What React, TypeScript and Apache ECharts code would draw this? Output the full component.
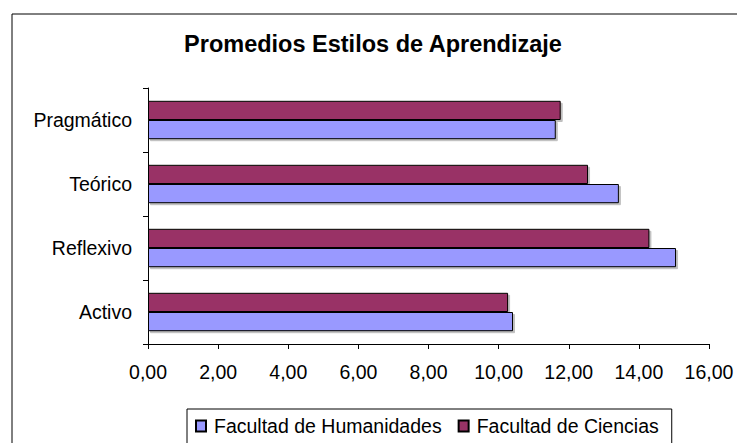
import React, { useEffect, useRef } from "react";
import * as echarts from "echarts";

const categories = ["Activo", "Reflexivo", "Teórico", "Pragmático"];
const humanidades = [10.41, 15.06, 13.43, 11.63];
const ciencias = [10.27, 14.3, 12.55, 11.77];
const seriesNames = ["Facultad de Humanidades", "Facultad de Ciencias"];
const titleText = "Promedios Estilos de Aprendizaje";

const FONT = "'Liberation Sans', Arial, sans-serif";
const FS = 19.5;

export default function App() {
  const ref = useRef<HTMLDivElement>(null);
  useEffect(() => {
    if (!ref.current) return;
    const chart = echarts.init(ref.current, null, { renderer: "svg" });
    const barStyle = (color: string) => ({
      color,
      borderColor: "#000",
      borderWidth: 1,
      shadowColor: "rgba(0,0,0,0.25)",
      shadowOffsetX: 2,
      shadowOffsetY: 2,
      shadowBlur: 0,
    });
    chart.setOption({
      animation: false,
      backgroundColor: "#fff",
      textStyle: { fontFamily: FONT },
      graphic: [
        {
          type: "rect",
          shape: { x: 12, y: 14, width: 800, height: 500 },
          style: { fill: "none", stroke: "#000", lineWidth: 1 },
          z: -1,
        },
        {
          type: "text",
          x: 373,
          y: 43.5,
          style: {
            text: titleText,
            font: `bold 23.5px ${FONT}`,
            fill: "#000",
            textAlign: "center",
            textVerticalAlign: "middle",
          },
        },
      ],
      grid: { left: 148, top: 88, width: 561, height: 256, containLabel: false },
      legend: {
        data: seriesNames,
        left: 187,
        top: 409,
        orient: "horizontal",
        icon: "rect",
        itemWidth: 10,
        itemHeight: 11,
        itemGap: 16,
        padding: [7, 13, 30, 8],
        borderColor: "#000",
        borderWidth: 1,
        borderRadius: 0,
        textStyle: {
          fontFamily: FONT,
          fontSize: FS,
          color: "#000",
          padding: [0, 0, 0, 3],
        },
      },
      xAxis: {
        type: "value",
        min: 0,
        max: 16,
        interval: 2,
        axisLine: { show: true, lineStyle: { color: "#000", width: 1 } },
        axisTick: { show: true, length: 5, lineStyle: { color: "#000" } },
        splitLine: { show: false },
        axisLabel: {
          color: "#000",
          fontSize: FS,
          fontFamily: FONT,
          margin: 18,
          formatter: (v: number) => v.toFixed(2).replace(".", ","),
        },
      },
      yAxis: {
        type: "category",
        data: categories,
        axisLine: { show: true, lineStyle: { color: "#000", width: 1 } },
        axisTick: { show: true, length: 5, lineStyle: { color: "#000" } },
        axisLabel: { color: "#000", fontSize: FS, fontFamily: FONT, margin: 16 },
      },
      series: [
        {
          name: seriesNames[1],
          type: "bar",
          data: ciencias,
          barGap: "0%",
          barCategoryGap: "40%",
          itemStyle: barStyle("#993366"),
        },
        {
          name: seriesNames[0],
          type: "bar",
          data: humanidades,
          barGap: "0%",
          barCategoryGap: "40%",
          itemStyle: barStyle("#9999FF"),
        },
      ],
    });
    return () => chart.dispose();
  }, []);
  return (
    <div
      ref={ref}
      style={{ position: "fixed", left: 0, top: 0, width: 737, height: 443 }}
    />
  );
}
